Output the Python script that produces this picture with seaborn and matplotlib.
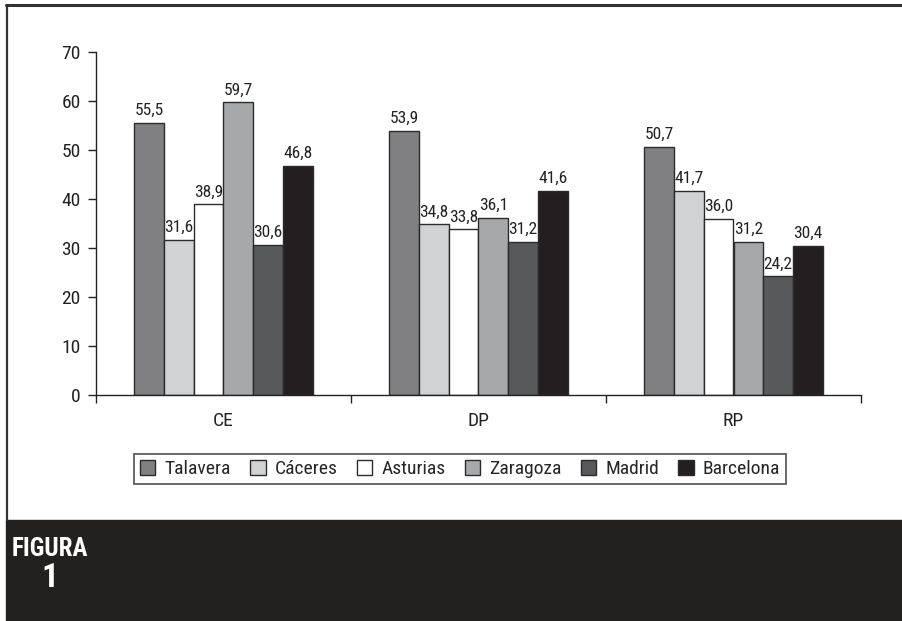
import os
import pandas as pd
import matplotlib.pyplot as plt
import seaborn as sns
from matplotlib import font_manager as fm
from matplotlib.patches import Rectangle
from matplotlib.lines import Line2D

grupos = ['CE', 'DP', 'RP']
ciudades = ['Talavera', 'Cáceres', 'Asturias', 'Zaragoza', 'Madrid', 'Barcelona']
valores = {
    'Talavera':  [55.5, 53.9, 50.7],
    'Cáceres':   [31.6, 34.8, 41.7],
    'Asturias':  [38.9, 33.8, 36.0],
    'Zaragoza':  [59.7, 36.1, 31.2],
    'Madrid':    [30.6, 31.2, 24.2],
    'Barcelona': [46.8, 41.6, 30.4],
}
colores = ['#808082', '#d1d2d4', '#ffffff', '#a7a8aa', '#58595b', '#231f20']

rows = []
for c in ciudades:
    for g, v in zip(grupos, valores[c]):
        rows.append({'grupo': g, 'ciudad': c, 'valor': v})
df = pd.DataFrame(rows)

# fuente estrecha tipo Helvetica Condensed
archivos = {os.path.basename(f).lower(): f for f in fm.findSystemFonts()}


def buscar(*nombres):
    for n in nombres:
        if n in archivos:
            return archivos[n]
    return None


f_reg = buscar('robotocondensed-regular.ttf', 'ptsansnarrow-regular.ttf', 'pt_sans-narrow-web-regular.ttf')
f_neg = buscar('robotocondensed-black.ttf', 'robotocondensed-bold.ttf', 'pragatinarrow-bold.ttf')

fuente = 'Liberation Sans'
if f_reg:
    fm.fontManager.addfont(f_reg)
    fuente = fm.FontProperties(fname=f_reg).get_name()
fp_neg = fm.FontProperties(fname=f_neg) if f_neg else fm.FontProperties(family='Liberation Sans', weight='bold')

sns.set_style("white")
plt.rcParams['font.family'] = [fuente, 'Liberation Sans', 'DejaVu Sans']

fig = plt.figure(figsize=(9.03, 6.21), dpi=100)
ax = fig.add_axes([96/903, 1 - 395/621, (861 - 96)/903, (395 - 52)/621])

sns.barplot(data=df, x='grupo', y='valor', hue='ciudad', order=grupos, hue_order=ciudades,
            palette=colores, edgecolor='#2b2b2b', linewidth=1, width=0.7, saturation=1,
            ax=ax)

for cont in ax.containers:
    labs = [f"{b.get_height():.1f}".replace('.', ',') for b in cont]
    ax.bar_label(cont, labels=labs, padding=3.5, fontsize=12.5, color='#222222')

ax.set_ylim(0, 70)
ax.set_xlim(-0.5, 2.5)
ax.set_yticks(range(0, 71, 10))
ax.set_xticks([-0.5, 0.5, 1.5, 2.5])
ax.set_xticklabels([])
ax.set_xticks([0, 1, 2], minor=True)
ax.set_xticklabels(grupos, minor=True)
ax.tick_params(axis='x', which='major', direction='out', length=6, width=1, color='#222222', bottom=True)
ax.tick_params(axis='x', which='minor', length=0, labelsize=14, pad=12, colors='#222222')
ax.tick_params(axis='y', direction='out', length=6, width=1, color='#222222', labelsize=14, pad=5,
               labelcolor='#222222', left=True)
ax.set_xlabel('')
ax.set_ylabel('')
for s in ['top', 'right']:
    ax.spines[s].set_visible(False)
for s in ['left', 'bottom']:
    ax.spines[s].set_color('#222222')
    ax.spines[s].set_linewidth(1)

ax.legend(loc='center', bbox_to_anchor=(460/903, 1 - 469/621), bbox_transform=fig.transFigure,
          ncol=6, frameon=True, fancybox=False, edgecolor='#222222', fontsize=14,
          handlelength=0.8, handleheight=0.8, handletextpad=0.45, columnspacing=1.0,
          borderpad=0.3, title=None)
ax.get_legend().get_frame().set_linewidth(1.2)

# marco y banda inferior
fig.add_artist(Line2D([6/903, 1], [1 - 5/621, 1 - 5/621], color='#333333', lw=2.2, transform=fig.transFigure))
fig.add_artist(Line2D([7/903, 7/903], [1 - 5/621, 101/621], color='#333333', lw=1.6, transform=fig.transFigure))
fig.add_artist(Rectangle((6/903, 0), 1, 101/621, transform=fig.transFigure, color='#222120', zorder=0))
fig.text(12/903, 1 - 549/621, 'FIGURA', color='white', fontproperties=fp_neg, fontsize=18,
         va='center', ha='left')
fig.text(41/903, 1 - 578/621, '1', color='white', fontproperties=fp_neg, fontsize=24,
         va='center', ha='left')

fig.savefig('out.png', dpi=100)
